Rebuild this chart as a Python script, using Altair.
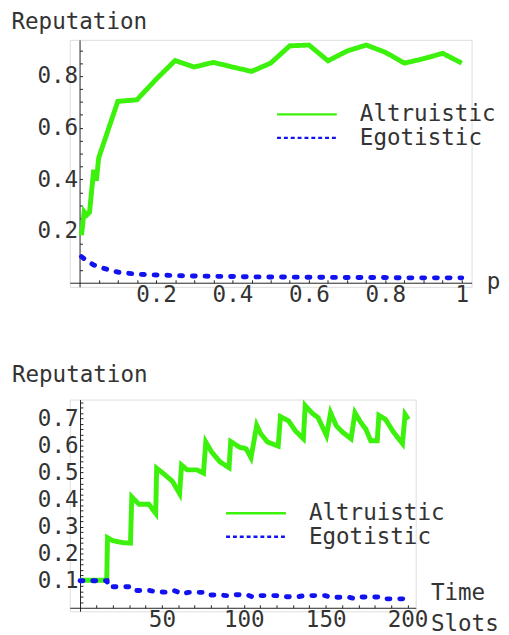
import altair as alt
import pandas as pd

SERIES = ["Altruistic", "Egotistic"]
GREEN = "#3CF20C"
BLUE = "#1212F0"
FONT = "DejaVu Sans Mono"
FS = 23
TXT = "#333333"
AX = "#222222"

# ---------- top panel (reputation vs p) ----------
p_vals = [0.005, 0.012, 0.019, 0.026, 0.037, 0.044, 0.05, 0.1, 0.15, 0.2, 0.25,
          0.3, 0.35, 0.4, 0.45, 0.5, 0.55, 0.6, 0.65, 0.7, 0.75, 0.8, 0.85,
          0.9, 0.95, 1.0]
rep_altruistic_p = [0.184, 0.275, 0.262, 0.272, 0.437, 0.395, 0.483, 0.702,
                    0.708, 0.787, 0.86, 0.835, 0.853, 0.835, 0.818, 0.85,
                    0.917, 0.92, 0.859, 0.897, 0.92, 0.892, 0.85, 0.867,
                    0.888, 0.85]
rep_egotistic_p = [0.101, 0.093, 0.085, 0.078, 0.069, 0.065, 0.061, 0.041,
                   0.033, 0.03, 0.028, 0.026, 0.025, 0.024, 0.023, 0.022,
                   0.022, 0.021, 0.021, 0.02, 0.02, 0.02, 0.019, 0.019,
                   0.019, 0.019]
top_xlabels = [0.2, 0.4, 0.6, 0.8, 1.0]
top_ylabels = [0.2, 0.4, 0.6, 0.8]
top_xticks = [round(0.05 * i, 2) for i in range(1, 21)]
top_yticks = [round(0.05 * i, 2) for i in range(1, 19)]

# ---------- bottom panel (reputation vs time slots) ----------
t_altruistic = [0, 16.3, 16.8, 20, 26, 30.8, 31.6, 36, 42, 46.2, 46.8, 51,
                56.4, 60.8, 62, 65.4, 71.4, 75.4, 76.8, 80.4, 85.4, 91, 92,
                97.4, 101.4, 104.4, 107.9, 110.4, 114.5, 121, 122.4, 127.4,
                131.4, 136.4, 137.5, 141.5, 145.4, 150.5, 153, 156.5, 160.4,
                165.5, 167.9, 171.5, 174.5, 177.5, 181.5, 182.5, 186.5,
                191.5, 196.9, 198.5, 200.5]
rep_altruistic_t = [0.102, 0.102, 0.259, 0.248, 0.241, 0.239, 0.41, 0.383,
                    0.383, 0.349, 0.516, 0.496, 0.468, 0.422, 0.528, 0.51,
                    0.51, 0.498, 0.613, 0.576, 0.54, 0.518, 0.615, 0.594,
                    0.588, 0.555, 0.675, 0.643, 0.613, 0.598, 0.707, 0.691,
                    0.655, 0.625, 0.748, 0.721, 0.703, 0.637, 0.721, 0.673,
                    0.649, 0.625, 0.721, 0.685, 0.661, 0.618, 0.618, 0.712,
                    0.697, 0.649, 0.607, 0.715, 0.697]
t_egotistic = [0, 16.5, 17, 31.5, 33.5, 42.5, 46.5, 52, 57, 62.5, 66, 75, 77,
               86, 91.5, 93, 102, 106, 110, 120, 123, 133, 137, 150, 152.5,
               164, 167, 170, 172, 182, 184, 198]
rep_egotistic_t = [0.1, 0.1, 0.078, 0.078, 0.064, 0.064, 0.059, 0.058, 0.065,
                   0.051, 0.057, 0.057, 0.047, 0.047, 0.044, 0.048, 0.048,
                   0.039, 0.045, 0.045, 0.041, 0.041, 0.045, 0.045, 0.039,
                   0.039, 0.035, 0.035, 0.04, 0.04, 0.033, 0.033]
bot_xlabels = [50, 100, 150, 200]
bot_ylabels = [0.1, 0.2, 0.3, 0.4, 0.5, 0.6, 0.7]
bot_xticks = [10 * i for i in range(1, 21)]
bot_yticks = [round(0.02 * i, 2) for i in range(1, 39)]


def frame(xa, ya, xe, ye):
    a = pd.DataFrame({"x": xa, "y": ya, "series": SERIES[0]})
    e = pd.DataFrame({"x": xe, "y": ye, "series": SERIES[1]})
    return pd.concat([a, e], ignore_index=True)


def panel(df, x_dom, y_dom, W, H, xlabels, ylabels, xticks, yticks, xfmt,
          xtitle, xtitle_pos, ytitle_pos, leg_pos):
    px0 = (0 - x_dom[0]) / (x_dom[1] - x_dom[0]) * W
    py0 = (y_dom[1] - 0) / (y_dom[1] - y_dom[0]) * H
    xs = alt.Scale(domain=x_dom, nice=False, zero=False)
    ys = alt.Scale(domain=y_dom, nice=False, zero=False)

    legend = alt.Legend(
        orient="none", legendX=leg_pos[0], legendY=leg_pos[1],
        direction="vertical", title=None, symbolType="stroke",
        symbolSize=3721, symbolStrokeWidth=2.5, labelFont=FONT,
        labelFontSize=FS, labelColor=TXT, labelOffset=22, clipHeight=23,
        rowPadding=0, padding=0,
    )
    color = alt.Color("series:N",
                      scale=alt.Scale(domain=SERIES, range=[GREEN, BLUE]),
                      legend=legend)
    dash = alt.StrokeDash("series:N",
                          scale=alt.Scale(domain=SERIES,
                                          range=[[1, 0], [4, 3]]),
                          legend=legend)

    lab_x = alt.Axis(
        orient="bottom", offset=py0 - H, values=xlabels, format=xfmt,
        ticks=False, tickSize=0, domain=True, domainColor=AX, domainWidth=1,
        labelFont=FONT, labelFontSize=FS, labelColor=TXT, labelPadding=1,
        labelFlush=False, labelOverlap=False, labelBound=False, grid=False,
        title=xtitle, titleFont=FONT, titleFontSize=FS, titleColor=TXT,
        titleFontWeight="normal", titleAlign="left",
        titleBaseline="alphabetic", titleAngle=0, titleLineHeight=31,
        titleX=xtitle_pos[0], titleY=xtitle_pos[1])
    lab_y = alt.Axis(
        orient="left", offset=-px0, values=ylabels, format="~g",
        ticks=False, tickSize=0, domain=True, domainColor=AX, domainWidth=1,
        labelFont=FONT, labelFontSize=FS, labelColor=TXT, labelPadding=2,
        labelFlush=False, labelOverlap=False, labelBound=False, grid=False,
        title="Reputation", titleFont=FONT, titleFontSize=FS, titleColor=TXT,
        titleFontWeight="normal", titleAlign="left",
        titleBaseline="alphabetic", titleAngle=0,
        titleX=ytitle_pos[0], titleY=ytitle_pos[1])
    tick_x = alt.Axis(
        orient="top", offset=-py0, values=xticks, labels=False, domain=False,
        ticks=True, tickSize=3, tickColor=AX, tickWidth=1, grid=False,
        title=None)
    tick_y = alt.Axis(
        orient="right", offset=px0 - W, values=yticks, labels=False,
        domain=False, ticks=True, tickSize=3, tickColor=AX, tickWidth=1,
        grid=False, title=None)

    base = alt.Chart(df)
    green = base.transform_filter(alt.datum.series == SERIES[0]).mark_line(
    ).encode(
        x=alt.X("x:Q", scale=xs, axis=lab_x),
        y=alt.Y("y:Q", scale=ys, axis=lab_y),
        color=color,
        strokeDash=dash,
        strokeWidth=alt.value(5),
    )
    blue = base.transform_filter(alt.datum.series == SERIES[1]).mark_line(
        strokeCap="round"
    ).encode(
        x=alt.X("x:Q", scale=xs, axis=tick_x),
        y=alt.Y("y:Q", scale=ys, axis=tick_y),
        color=color,
        strokeWidth=alt.value(5),
        strokeDash=alt.value([3, 10]),
    )
    return alt.layer(green, blue).resolve_axis(
        x="independent", y="independent").properties(width=W, height=H)


top = panel(
    frame(p_vals, rep_altruistic_p, p_vals, rep_egotistic_p),
    [-0.0257, 1.0257], [-0.016, 0.94], 410, 252,
    top_xlabels, top_ylabels, top_xticks, top_yticks, "~g",
    "p", (425, 6), (-70, -11.5), (210, 64.5))

bottom = panel(
    frame(t_altruistic, rep_altruistic_t, t_egotistic, rep_egotistic_t),
    [-6.28, 205], [-0.013, 0.77], 353, 216,
    bot_xlabels, bot_ylabels, bot_xticks, bot_yticks, "d",
    ["Time", "Slots"], (368, -8), (-70, -18), (158, 104.5))

chart = alt.vconcat(top, bottom, spacing=115, bounds="flush").resolve_legend(
    color="independent", strokeDash="independent"
).properties(
    padding={"left": 2, "top": -3.9, "right": 0, "bottom": 0}
).configure_view(stroke=None).configure(background="white")

chart.save("out.html", embed_options={"renderer": "svg", "actions": False})
